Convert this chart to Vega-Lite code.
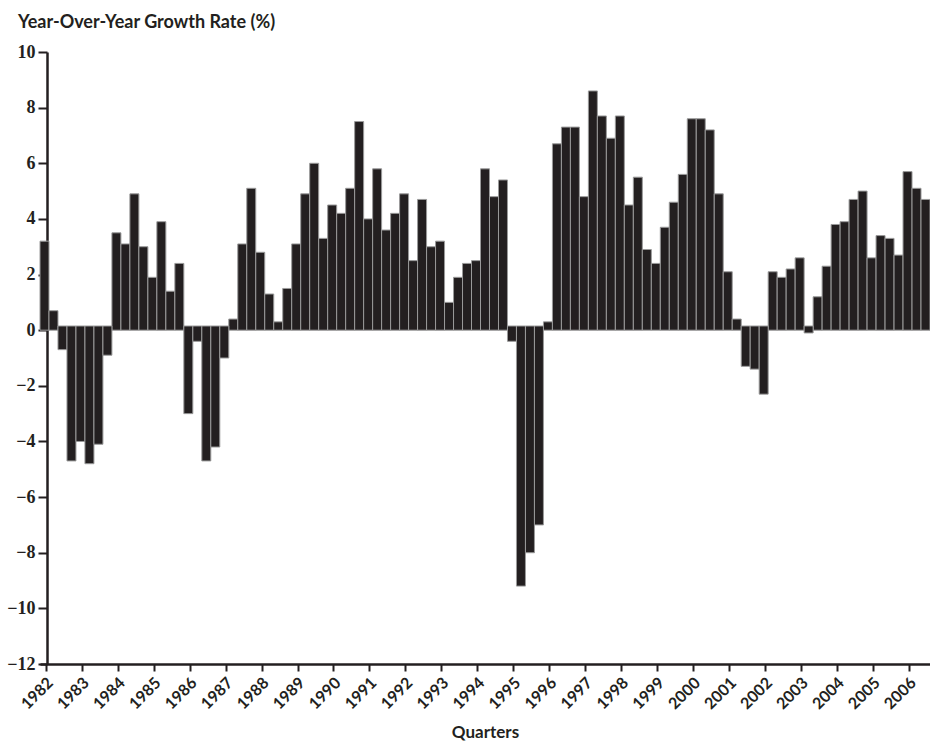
{
  "$schema": "https://vega.github.io/schema/vega-lite/v6.json",
  "width": 890,
  "height": 612,
  "autosize": {"type": "none"},
  "padding": {"left": 40, "top": 52, "right": 0, "bottom": 78},
  "background": "white",
  "config": {"view": {"stroke": null}},
  "title": {
    "text": "Year-Over-Year Growth Rate (%)",
    "anchor": "start",
    "frame": "group",
    "dx": -22,
    "offset": -3,
    "baseline": "alphabetic",
    "font": "Lato",
    "fontSize": 18,
    "fontWeight": "bold",
    "color": "#231f20"
  },
  "data": {
    "values": [
      {"q": "1982-1", "v": 3.2}, {"q": "1982-2", "v": 0.7}, {"q": "1982-3", "v": -0.7}, {"q": "1982-4", "v": -4.7},
      {"q": "1983-1", "v": -4.0}, {"q": "1983-2", "v": -4.8}, {"q": "1983-3", "v": -4.1}, {"q": "1983-4", "v": -0.9},
      {"q": "1984-1", "v": 3.5}, {"q": "1984-2", "v": 3.1}, {"q": "1984-3", "v": 4.9}, {"q": "1984-4", "v": 3.0},
      {"q": "1985-1", "v": 1.9}, {"q": "1985-2", "v": 3.9}, {"q": "1985-3", "v": 1.4}, {"q": "1985-4", "v": 2.4},
      {"q": "1986-1", "v": -3.0}, {"q": "1986-2", "v": -0.4}, {"q": "1986-3", "v": -4.7}, {"q": "1986-4", "v": -4.2},
      {"q": "1987-1", "v": -1.0}, {"q": "1987-2", "v": 0.4}, {"q": "1987-3", "v": 3.1}, {"q": "1987-4", "v": 5.1},
      {"q": "1988-1", "v": 2.8}, {"q": "1988-2", "v": 1.3}, {"q": "1988-3", "v": 0.3}, {"q": "1988-4", "v": 1.5},
      {"q": "1989-1", "v": 3.1}, {"q": "1989-2", "v": 4.9}, {"q": "1989-3", "v": 6.0}, {"q": "1989-4", "v": 3.3},
      {"q": "1990-1", "v": 4.5}, {"q": "1990-2", "v": 4.2}, {"q": "1990-3", "v": 5.1}, {"q": "1990-4", "v": 7.5},
      {"q": "1991-1", "v": 4.0}, {"q": "1991-2", "v": 5.8}, {"q": "1991-3", "v": 3.6}, {"q": "1991-4", "v": 4.2},
      {"q": "1992-1", "v": 4.9}, {"q": "1992-2", "v": 2.5}, {"q": "1992-3", "v": 4.7}, {"q": "1992-4", "v": 3.0},
      {"q": "1993-1", "v": 3.2}, {"q": "1993-2", "v": 1.0}, {"q": "1993-3", "v": 1.9}, {"q": "1993-4", "v": 2.4},
      {"q": "1994-1", "v": 2.5}, {"q": "1994-2", "v": 5.8}, {"q": "1994-3", "v": 4.8}, {"q": "1994-4", "v": 5.4},
      {"q": "1995-1", "v": -0.4}, {"q": "1995-2", "v": -9.2}, {"q": "1995-3", "v": -8.0}, {"q": "1995-4", "v": -7.0},
      {"q": "1996-1", "v": 0.3}, {"q": "1996-2", "v": 6.7}, {"q": "1996-3", "v": 7.3}, {"q": "1996-4", "v": 7.3},
      {"q": "1997-1", "v": 4.8}, {"q": "1997-2", "v": 8.6}, {"q": "1997-3", "v": 7.7}, {"q": "1997-4", "v": 6.9},
      {"q": "1998-1", "v": 7.7}, {"q": "1998-2", "v": 4.5}, {"q": "1998-3", "v": 5.5}, {"q": "1998-4", "v": 2.9},
      {"q": "1999-1", "v": 2.4}, {"q": "1999-2", "v": 3.7}, {"q": "1999-3", "v": 4.6}, {"q": "1999-4", "v": 5.6},
      {"q": "2000-1", "v": 7.6}, {"q": "2000-2", "v": 7.6}, {"q": "2000-3", "v": 7.2}, {"q": "2000-4", "v": 4.9},
      {"q": "2001-1", "v": 2.1}, {"q": "2001-2", "v": 0.4}, {"q": "2001-3", "v": -1.3}, {"q": "2001-4", "v": -1.4},
      {"q": "2002-1", "v": -2.3}, {"q": "2002-2", "v": 2.1}, {"q": "2002-3", "v": 1.9}, {"q": "2002-4", "v": 2.2},
      {"q": "2003-1", "v": 2.6}, {"q": "2003-2", "v": -0.1}, {"q": "2003-3", "v": 1.2}, {"q": "2003-4", "v": 2.3},
      {"q": "2004-1", "v": 3.8}, {"q": "2004-2", "v": 3.9}, {"q": "2004-3", "v": 4.7}, {"q": "2004-4", "v": 5.0},
      {"q": "2005-1", "v": 2.6}, {"q": "2005-2", "v": 3.4}, {"q": "2005-3", "v": 3.3}, {"q": "2005-4", "v": 2.7},
      {"q": "2006-1", "v": 5.7}, {"q": "2006-2", "v": 5.1}, {"q": "2006-3", "v": 4.7}
    ]
  },
  "encoding": {
    "x": {
      "field": "q",
      "type": "ordinal",
      "sort": "ascending",
      "scale": {"paddingInner": 0, "paddingOuter": 0},
      "axis": {
        "values": ["1982-1","1983-1","1984-1","1985-1","1986-1","1987-1","1988-1","1989-1","1990-1","1991-1","1992-1","1993-1","1994-1","1995-1","1996-1","1997-1","1998-1","1999-1","2000-1","2001-1","2002-1","2003-1","2004-1","2005-1","2006-1"],
        "labelExpr": "substring(datum.value, 0, 4)",
        "bandPosition": 0.7,
        "labelAngle": -45,
        "labelAlign": "right",
        "labelBaseline": "middle",
        "labelPadding": 9,
        "labelOffset": 6,
        "labelFont": "Lato",
        "labelFontSize": 16,
        "labelFontWeight": "bold",
        "labelColor": "#231f20",
        "tickSize": 7,
        "tickWidth": 2,
        "tickColor": "#231f20",
        "domainColor": "#231f20",
        "domainWidth": 2.5,
        "title": "Quarters",
        "titleFont": "Lato",
        "titleFontSize": 17,
        "titleFontWeight": "bold",
        "titleColor": "#231f20",
        "titlePadding": 13
      }
    },
    "y": {
      "type": "quantitative",
      "scale": {"domain": [-12, 10], "nice": false, "zero": false},
      "axis": {
        "values": [-12, -10, -8, -6, -4, -2, 0, 2, 4, 6, 8, 10],
        "grid": false,
        "title": null,
        "offset": -7,
        "labelFont": "Liberation Serif",
        "labelFontSize": 18,
        "labelFontWeight": "bold",
        "labelColor": "#231f20",
        "labelPadding": 3,
        "tickSize": 9,
        "tickWidth": 2,
        "tickColor": "#231f20",
        "domainColor": "#231f20",
        "domainWidth": 2.5
      }
    }
  },
  "layer": [
    {
      "transform": [{"filter": "datum.v >= 0"}],
      "mark": {"type": "bar", "fill": "#231f20", "stroke": "#9a9a9a", "strokeWidth": 1},
      "encoding": {"y": {"field": "v"}, "y2": {"datum": 0}}
    },
    {
      "transform": [{"filter": "datum.v < 0"}],
      "mark": {"type": "bar", "fill": "#231f20", "stroke": "#9a9a9a", "strokeWidth": 1},
      "encoding": {"y": {"field": "v"}, "y2": {"datum": 0.15}}
    }
  ]
}
